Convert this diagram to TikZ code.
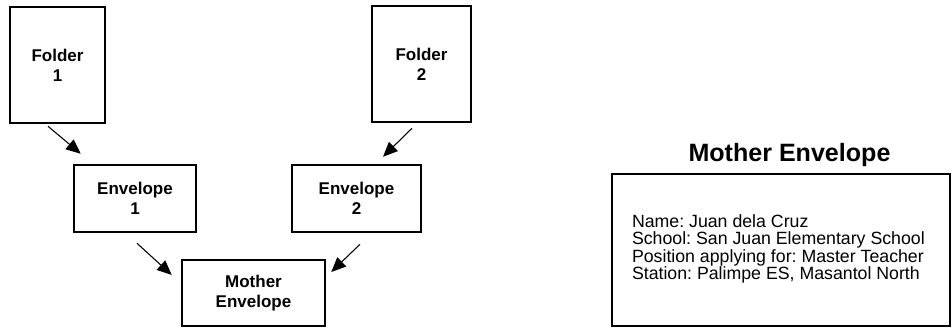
\documentclass[tikz,border=0pt]{standalone}
\usepackage{fontspec}
\setmainfont{Liberation Sans}
\frenchspacing
\usetikzlibrary{arrows.meta,calc}
\tikzset{
  box/.style={draw=black, line width=1.9pt, fill=white, inner sep=0pt,
    font=\fontsize{12.75}{15}\selectfont\bfseries, align=center},
  arr/.style={line width=0.8pt, -{Triangle[length=11pt,width=9.5pt]}},
  info/.style={font=\fontsize{13.3}{13}\selectfont, align=left, inner sep=0pt},
  title/.style={font=\fontsize{18.8}{21}\selectfont\bfseries, inner sep=0pt}
}
\begin{document}
\begin{tikzpicture}[x=0.75pt,y=-0.75pt]
\useasboundingbox (0,0) rectangle (952,328);
% boxes
\node[box, minimum width=71.25pt, minimum height=87pt] (f1) at (57.5,65) {Folder\\1};
\node[box, minimum width=74.25pt, minimum height=87pt] (f2) at (421.5,64) {Folder\\2};
\node[box, minimum width=91.5pt, minimum height=50.25pt] (e1) at (135,198.5) {Envelope\\1};
\node[box, minimum width=96.75pt, minimum height=50.25pt] (e2) at (356.5,198.5) {Envelope\\2};
\node[box, minimum width=107.25pt, minimum height=49.5pt] (m) at (253.5,293) {Mother\\Envelope};
% arrows
\draw[arr] ($(f1.south)+(-9.5,2)$) -- ($(e1.north west)+(8,-10)$);
\draw[arr] ($(f2.south)+(-9.5,5)$) -- ($(e2.north)+(26.5,-7)$);
\draw[arr] ($(e1.south)+(2,10)$) -- ($(m.west)+(-9,-18)$);
\draw[arr] ($(e2.south)+(3.5,11)$) -- ($(m.east)+(5,-21)$);
% right side
\node[title, anchor=base] (t) at (789.5,161) {Mother Envelope};
\node[draw=black, line width=1.9pt, inner sep=0pt, minimum width=253.5pt, minimum height=114pt] (rb) at (781,250) {};
\node[info, anchor=west] (txt) at ($(rb.west)+(21,-1)$) {Name: Juan dela Cruz\\School: San Juan Elementary School\\Position applying for: Master Teacher\\Station: Palimpe ES, Masantol North};
\end{tikzpicture}
\end{document}
